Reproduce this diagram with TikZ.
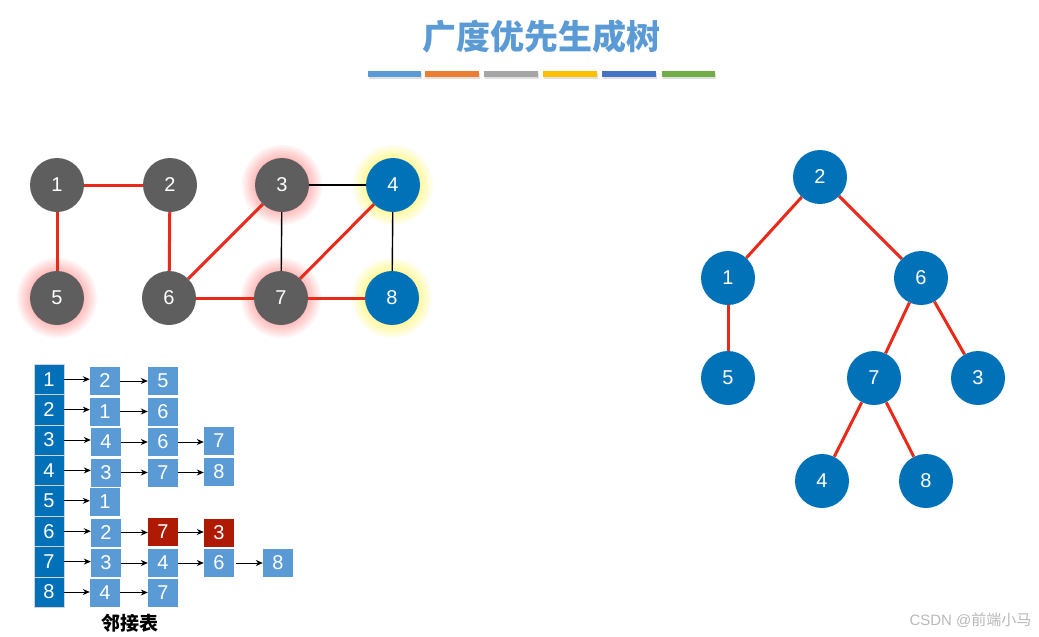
\documentclass[tikz,border=0pt]{standalone}
\usepackage{fontspec}
\setmainfont{Liberation Sans}
\newfontfamily\cjk{Noto Sans CJK SC}
\usetikzlibrary{arrows.meta,backgrounds}
\definecolor{ttl}{HTML}{5B9BD5}
\definecolor{barA}{HTML}{5B9BD5}
\definecolor{barB}{HTML}{ED7D31}
\definecolor{barC}{HTML}{A5A5A5}
\definecolor{barD}{HTML}{FFC000}
\definecolor{barE}{HTML}{4472C4}
\definecolor{barF}{HTML}{70AD47}
\definecolor{gnodec}{HTML}{5E5E5E}
\definecolor{bnodec}{HTML}{0172B8}
\definecolor{edgered}{HTML}{EA2A18}
\definecolor{lightbox}{HTML}{5B9BD5}
\definecolor{darkbox}{HTML}{0071B8}
\definecolor{redbox}{HTML}{AE1A04}
\tikzset{
  vnode/.style={circle, minimum size=54pt, inner sep=0pt, text=white, font=\fontsize{20}{20}\selectfont},
  gray node/.style={vnode, fill=gnodec},
  blue node/.style={vnode, fill=bnodec},
  red edge/.style={draw=edgered, line width=3pt},
  black edge/.style={draw=black, line width=1.4pt},
  colbox/.style={rectangle, minimum width=30pt, minimum height=30.4pt, inner sep=0pt, fill=darkbox, draw=gray!35, line width=0.6pt, text=white, font=\fontsize{20}{20}\selectfont},
  lbox/.style={rectangle, minimum width=30pt, minimum height=28pt, inner sep=0pt, fill=lightbox, text=white, font=\fontsize{20}{20}\selectfont},
  rbox/.style={lbox, fill=redbox},
  arr/.style={-{Stealth[length=7pt,width=6pt]}, line width=1pt, black},
  bar/.style={line width=6pt},
}
\begin{document}
\begin{tikzpicture}[x=1pt,y=-1pt]
\useasboundingbox (0,0) rectangle (1039,637);

% title
\node[text=ttl, font=\cjk\bfseries\fontsize{34}{34}\selectfont] (title) at (541,37) {广度优先生成树};
% color bars
\foreach \a/\b/\c in {368/421/barA,425/479/barB,484/538/barC,543/597/barD,602/656/barE,662/715/barF}{
  \draw[bar, black, opacity=0.12] (\a+1,76) -- (\b+1,76);
  \draw[bar, \c] (\a,74) -- (\b,74);
}

% graph
\node[gray node] (g1) at (57,185) {1};
\node[gray node] (g2) at (170,185) {2};
\node[gray node] (g3) at (282,185) {3};
\node[blue node] (g4) at (393,185) {4};
\node[gray node] (g5) at (57,298) {5};
\node[gray node] (g6) at (169,298) {6};
\node[gray node] (g7) at (281,298) {7};
\node[blue node] (g8) at (392,298) {8};

% adjacency list
\foreach \i in {1,...,8}{
  \node[colbox] (L\i) at (49,{379.2+30.4*(\i-1)}) {\i};
}
% row 1
\node[lbox] (a11) at (105,381) {2};
\node[lbox] (a12) at (163,381) {5};
% row 2
\node[lbox] (a21) at (105,411.5) {1};
\node[lbox] (a22) at (163,411.5) {6};
% row 3
\node[lbox] (a31) at (106,442) {4};
\node[lbox] (a32) at (163,442) {6};
\node[lbox] (a33) at (219,441) {7};
% row 4
\node[lbox] (a41) at (106,472.5) {3};
\node[lbox] (a42) at (163,472.5) {7};
\node[lbox] (a43) at (219,472) {8};
% row 5
\node[lbox] (a51) at (105,502) {1};
% row 6
\node[lbox] (a61) at (106,532.5) {2};
\node[rbox] (a62) at (163,532) {7};
\node[rbox] (a63) at (219,532.5) {3};
% row 7
\node[lbox] (a71) at (106,563) {3};
\node[lbox] (a72) at (163,563) {4};
\node[lbox] (a73) at (219,563) {6};
\node[lbox] (a74) at (278,563) {8};
% row 8
\node[lbox] (a81) at (105,592.5) {4};
\node[lbox] (a82) at (163,592.5) {7};

\draw[arr] (L1.east) -- (L1.east -| a11.west);
\draw[arr] (a11.east) -- (a11.east -| a12.west);
\draw[arr] (L2.east) -- (L2.east -| a21.west);
\draw[arr] (a21.east) -- (a21.east -| a22.west);
\draw[arr] (L3.east) -- (L3.east -| a31.west);
\draw[arr] (a31.east) -- (a31.east -| a32.west);
\draw[arr] (a32.east) -- (a32.east -| a33.west);
\draw[arr] (L4.east) -- (L4.east -| a41.west);
\draw[arr] (a41.east) -- (a41.east -| a42.west);
\draw[arr] (a42.east) -- (a42.east -| a43.west);
\draw[arr] (L5.east) -- (L5.east -| a51.west);
\draw[arr] (L6.east) -- (L6.east -| a61.west);
\draw[arr] (a61.east) -- (a61.east -| a62.west);
\draw[arr] (a62.east) -- (a62.east -| a63.west);
\draw[arr] (L7.east) -- (L7.east -| a71.west);
\draw[arr] (a71.east) -- (a71.east -| a72.west);
\draw[arr] (a72.east) -- (a72.east -| a73.west);
\draw[arr] ([xshift=2pt]a73.east) -- (a73.east -| a74.west);
\draw[arr] (L8.east) -- (L8.east -| a81.west);
\draw[arr] (a81.east) -- (a81.east -| a82.west);

\node[font=\cjk\bfseries\fontsize{19}{19}\selectfont] (cap) at (130,623) {邻接表};

% tree
\node[blue node] (t2) at (820,177) {2};
\node[blue node] (t1) at (728,278) {1};
\node[blue node] (t6) at (921,278) {6};
\node[blue node] (t5) at (728,378) {5};
\node[blue node] (t7) at (874,378) {7};
\node[blue node] (t3) at (978,378) {3};
\node[blue node] (t4) at (822,481) {4};
\node[blue node] (t8) at (926,481) {8};

\begin{scope}[on background layer]
  \fill[white] (0,0) rectangle (1039,637);
  \foreach \n in {g3,g5,g7}{
    \foreach \r in {40,38,...,28}{\fill[red!70, opacity=0.06] (\n) circle (\r pt);}
  }
  \foreach \n in {g4,g8}{
    \foreach \r in {40,38,...,28}{\fill[yellow!90, opacity=0.07] (\n) circle (\r pt);}
  }
  \draw[red edge] (g1) -- (g2);
  \draw[red edge] (g1) -- (g5);
  \draw[red edge] (g2) -- (g6);
  \draw[red edge] (g6) -- (g3);
  \draw[red edge] (g6) -- (g7);
  \draw[red edge] (g7) -- (g4);
  \draw[red edge] (g7) -- (g8);
  \draw[black edge] (g3) -- (g4);
  \draw[black edge] (g3) -- (g7);
  \draw[black edge] (g4) -- (g8);
  \draw[red edge] (t2) -- (t1);
  \draw[red edge] (t2) -- (t6);
  \draw[red edge] (t1) -- (t5);
  \draw[red edge] (t6) -- (t7);
  \draw[red edge] (t6) -- (t3);
  \draw[red edge] (t7) -- (t4);
  \draw[red edge] (t7) -- (t8);
\end{scope}

% watermark
\node[anchor=east, text=gray!55, font=\fontsize{15}{15}\selectfont] (wm) at (1035,620) {CSDN @{\cjk 前端小马}};
\end{tikzpicture}
\end{document}
